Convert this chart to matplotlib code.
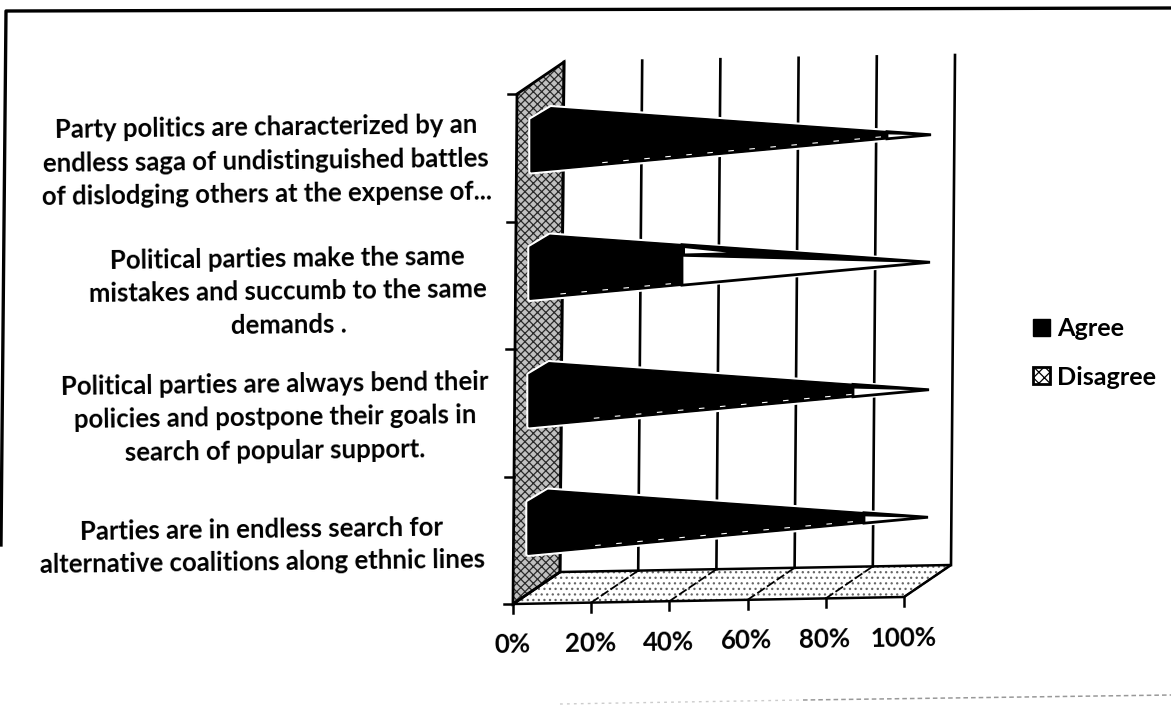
"""Stacked 3D cone chart: agreement with statements about party politics."""

import matplotlib

matplotlib.use("Agg")

import matplotlib.pyplot as plt
import numpy as np
from matplotlib.patches import Patch, Polygon

plt.rcParams["font.family"] = ["Lato", "DejaVu Sans"]
plt.rcParams["hatch.linewidth"] = 0.9

# Top to bottom
categories = [
    "Party politics are characterized by an\nendless saga of undistinguished battles\nof dislodging others at the expense of...",
    "Political parties make the same\nmistakes and succumb to the same\ndemands .",
    "Political parties are always bend their\npolicies and postpone their goals in\nsearch of popular support.",
    "Parties are in endless search for\nalternative coalitions along ethnic lines",
]
agree = [89, 38, 81, 84]
disagree = [11, 62, 19, 16]
x_ticks = [0, 20, 40, 60, 80, 100]
series_names = ["Agree", "Disagree"]

# Oblique projection of the chart box, in pixels
ORIGIN = np.array([513.0, 604.0])
X_VEC = np.array([391.0, -7.0])
UP_VEC = np.array([4.0, -510.0])
DEPTH_VEC = np.array([47.0, -32.0])

# Outline of the cone's base around its centre
BASE_BOTTOM = np.array([-9.0, 30.0])
BASE_LEFT = np.array([-9.0, -22.0])
BASE_TOP = np.array([11.0, -34.0])


def project(pct, level, depth):
    return ORIGIN + X_VEC * pct / 100 + UP_VEC * level + DEPTH_VEC * depth


def edge_y(start, tip, x):
    return np.interp(x, [start[0], tip[0]], [start[1], tip[1]])


def draw_cone(ax, row, agree_pct, disagree_pct):
    level = (len(categories) - row - 0.5) / len(categories)
    centre = project(0, level, 0.5)
    tip = project(agree_pct + disagree_pct, level, 0.5)
    bottom = centre + BASE_BOTTOM
    left = centre + BASE_LEFT
    top = centre + BASE_TOP

    cut_x = bottom[0] + (tip[0] - bottom[0]) * agree_pct / 100
    cut_top = np.array([cut_x, edge_y(top, tip, cut_x)])
    cut_bottom = np.array([cut_x, edge_y(bottom, tip, cut_x)])

    # White rim where the cone sits against the side wall
    ax.add_patch(Polygon([bottom, left, top, tip], closed=True, facecolor="white",
                         edgecolor="white", linewidth=4, joinstyle="round", zorder=3))
    ax.add_patch(Polygon([cut_bottom, cut_top, tip], closed=True, facecolor="white",
                         edgecolor="black", linewidth=2.0, joinstyle="miter", zorder=4))

    # The far side of the open part reads as a dark band with a short light gap
    ridge_start = cut_top + (cut_bottom - cut_top) * 0.28
    ax.add_patch(Polygon([cut_top, ridge_start, tip], closed=True, facecolor="black",
                         edgecolor="black", linewidth=1.0, zorder=5))
    if ridge_start[1] - cut_top[1] > 6:
        gap_end = (cut_top + ridge_start) / 2 + (tip - (cut_top + ridge_start) / 2) * 0.18
        gap = [cut_top + np.array([3.0, 3.5]), ridge_start + np.array([3.0, -2.5]), gap_end]
        ax.add_patch(Polygon(gap, closed=True, facecolor="white", edgecolor="none", zorder=6))

    ax.add_patch(Polygon([bottom, left, top, cut_top, cut_bottom], closed=True,
                         facecolor="black", edgecolor="black", linewidth=1.0, zorder=7))

    # Light flecks along the lower flank of the dark part
    fleck_start = bottom + (cut_bottom - bottom) * 0.2
    ax.plot([fleck_start[0], cut_bottom[0]], [fleck_start[1] - 2.5, cut_bottom[1] - 2.5], color="white",
            lw=0.8, ls=(0, (5, 14)), zorder=8)


fig = plt.figure(figsize=(11.71, 7.22), dpi=100, facecolor="white")
ax = fig.add_axes([0, 0, 1, 1])
ax.set_xlim(0, 1171)
ax.set_ylim(722, 0)
ax.axis("off")

# Side wall and floor
wall = [project(0, 0, 0), project(0, 1, 0), project(0, 1, 1), project(0, 0, 1)]
ax.add_patch(Polygon(wall, closed=True, facecolor="#c0c0c0", edgecolor="#2a2a2a",
                     hatch="xxxx", linewidth=0, zorder=1))
ax.add_patch(Polygon(wall, closed=True, fill=False, edgecolor="black", linewidth=2.0, zorder=2))
floor = [project(0, 0, 0), project(100, 0, 0), project(100, 0, 1), project(0, 0, 1)]
ax.add_patch(Polygon(floor, closed=True, facecolor="white", edgecolor="#666666",
                     hatch="...", linewidth=0, zorder=1))
ax.add_patch(Polygon(floor, closed=True, fill=False, edgecolor="black", linewidth=1.8, zorder=2))

# Gridlines on the back wall and across the floor
for pct in x_ticks:
    back_low = project(pct, 0, 1)
    back_high = project(pct, 1, 1)
    front = project(pct, 0, 0)
    ax.plot([back_low[0], back_high[0]], [back_low[1], back_high[1]], color="black", lw=1.9, zorder=2)
    ax.plot([front[0], back_low[0]], [front[1], back_low[1]], color="black", lw=1.3,
            ls=(0, (5, 1.5)), zorder=2)
    ax.plot([front[0], front[0]], [front[1], front[1] + 9], color="black", lw=1.8, zorder=2)
    ax.text(front[0] - 1, front[1] + 41, f"{pct}%", ha="center", va="center", rotation=1,
            fontsize=18.6, fontweight="bold", color="black")

# Category ticks on the wall's front edge
for k in range(len(categories) + 1):
    p = project(0, k / len(categories), 0)
    ax.plot([p[0] - 9, p[0]], [p[1], p[1]], color="black", lw=1.8, zorder=2)

for row, (a, d) in enumerate(zip(agree, disagree)):
    draw_cone(ax, row, a, d)

# Category labels sit left of the wall, centred per block
label_centres = [(266, 161), (288, 292), (275, 418), (262, 546)]
for label, (cx, cy) in zip(categories, label_centres):
    ax.text(cx, cy, label, ha="center", va="center", ma="center", rotation=0.7,
            rotation_mode="anchor", fontsize=18.5, fontweight="bold", color="black", linespacing=1.46)

handles = [
    Patch(facecolor="black", edgecolor="black", label=series_names[0]),
    Patch(facecolor="white", edgecolor="black", hatch="xxx", linewidth=2, label=series_names[1]),
]
ax.legend(handles=handles, loc="center left", bbox_to_anchor=(1033, 353),
          bbox_transform=ax.transData, frameon=False, handlelength=0.68,
          handleheight=0.68, handletextpad=0.28, labelspacing=1.0, borderpad=0,
          borderaxespad=0, prop={"family": "Lato", "weight": "bold", "size": 18.2})

# Page frame from the printed sheet, plus the faint line below the chart
ax.plot([1, 6, 1171], [545, 11, 8], color="black", lw=2.4, zorder=9)
ax.plot([560, 803], [704, 700], color="#cccccc", lw=1.0, ls=(0, (2, 3)), zorder=1)
ax.plot([803, 1171], [700, 695], color="#999999", lw=1.1, ls=(0, (3, 2)), zorder=1)

fig.savefig("out.png", dpi=100, facecolor="white")
